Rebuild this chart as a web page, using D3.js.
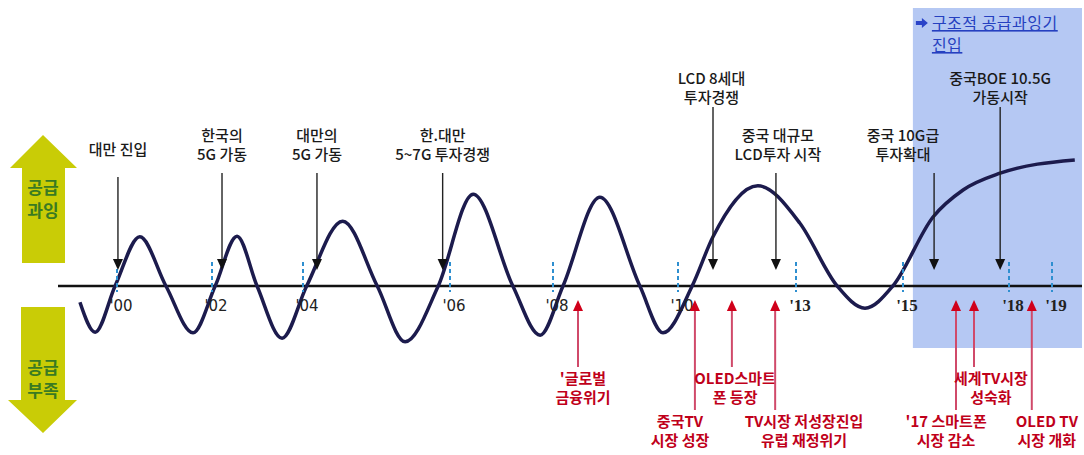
<!DOCTYPE html>
<html>
<head>
<meta charset="utf-8">
<script src="https://cdn.jsdelivr.net/npm/d3@7"></script>
<style>
    body { margin: 0; background: #fff; }
    text { font-family: "Noto Sans CJK KR", "Noto Sans", sans-serif; }
</style>
</head>
<body>
<div id="chart"></div>
<script>
// Display panel supply cycle: oversupply (+) vs shortage (-)

const tickYears = [2000, 2002, 2004, 2006, 2008, 2010, 2013, 2015, 2018, 2019];
const tickLabels = ["'00", "'02", "'04", "'06", "'08", "'10", "'13", "'15", "'18", "'19"];

// cycle curve: year position and supply level (0 = balance)
const cycleYears = [1999.22, 1999.54, 1999.96, 2000.48, 2001.03, 2001.60, 2002.07, 2002.55, 2002.99,
    2003.54, 2004.05, 2004.54, 2005.01, 2005.39, 2005.84, 2006.45, 2007.22, 2007.75, 2008.16,
    2008.75, 2009.39, 2009.76, 2010.36, 2010.89, 2012.03, 2013.07, 2013.77, 2014.29, 2014.81,
    2015.85, 2016.70, 2017.75, 2019.53];
const cycleLevels = [-0.27, -0.77, 0, 0.82, 0, -0.78, 0, 0.83, 0,
    -0.87, 0, 1.08, 0, -0.93, 0, 1.53, 0, -0.82, 0,
    1.48, 0, -0.78, 0, 0.82, 1.67, 1.05, 0, -0.37, 0,
    1.15, 1.6, 1.88, 2.1];

// supply-side events (black, pointing down)
const supplyEvents = [
    { lines: ['대만 진입'], year: 2000.02, labelYear: 2000.02, tier: 'single' },
    { lines: ['한국의', '5G 가동'], year: 2002.22, labelYear: 2002.22, tier: 'mid' },
    { lines: ['대만의', '5G 가동'], year: 2004.19, labelYear: 2004.19, tier: 'mid' },
    { lines: ['한.대만', '5~7G 투자경쟁'], year: 2005.90, labelYear: 2005.90, tier: 'mid' },
    { lines: ['LCD 8세대', '투자경쟁'], year: 2010.89, labelYear: 2010.85, tier: 'high' },
    { lines: ['중국 대규모', 'LCD투자 시작'], year: 2012.49, labelYear: 2012.54, tier: 'mid' },
    { lines: ['중국 10G급', '투자확대'], year: 2015.88, labelYear: 2015.0, tier: 'mid' },
    { lines: ['중국BOE 10.5G', '가동시작'], year: 2017.75, labelYear: 2017.75, tier: 'high' }
];

// demand-side events (red, pointing up)
const demandEvents = [
    { lines: ["'글로벌", '금융위기'], year: 2008.40, labelYear: 2008.48, tier: 'short' },
    { lines: ['중국TV', '시장 성장'], year: 2010.43, labelYear: 2010.05, tier: 'long' },
    { lines: ['OLED스마트', '폰 등장'], year: 2011.37, labelYear: 2011.45, tier: 'short' },
    { lines: ['TV시장 저성장진입', '유럽 재정위기'], year: 2012.47, labelYear: 2013.15, tier: 'long' },
    { lines: ["'17 스마트폰", '시장 감소'], year: 2016.50, labelYear: 2016.22, tier: 'long' },
    { lines: ['세계TV시장', '성숙화'], year: 2017.01, labelYear: 2017.49, tier: 'short' },
    { lines: ['OLED TV', '시장 개화'], year: 2018.53, labelYear: 2018.88, tier: 'long' }
];

const eraStart = 2015.28;
const eraLines = ['구조적 공급과잉기', '진입'];

const W = 1084, H = 455;
const svg = d3.select('#chart').append('svg')
    .attr('width', W)
    .attr('height', H);

// piecewise time scale (tick spacing in the source is uneven)
const x = d3.scaleLinear()
    .domain(tickYears)
    .range([117, 212, 303, 450, 553, 678, 796, 903, 1009, 1052]);

const y = d3.scaleLinear()
    .domain([-1, 2])
    .range([346, 166]);

// shaded era
svg.append('rect')
    .attr('x', x(eraStart))
    .attr('y', 8)
    .attr('width', W - 2 - x(eraStart))
    .attr('height', 340)
    .attr('fill', '#b5c8f3');

// era title
svg.append('path')
    .attr('d', `M${x(eraStart) + 3},21 h6 v-3 l6,5 l-6,5 v-3 h-6 z`)
    .attr('fill', '#2a43c8');
eraLines.forEach((t, i) => {
    svg.append('text')
        .attr('x', x(eraStart) + 19)
        .attr('y', 29 + i * 22)
        .attr('font-size', '16px')
        .attr('letter-spacing', '0.5px')
        .attr('fill', '#2540c0')
        .attr('text-decoration', 'underline')
        .text(t);
});

// yellow supply arrows
const yellow = '#c9cc06';
svg.append('path')
    .attr('d', 'M43,135 L77,168 L65,168 L65,263 L22,263 L22,168 L10,168 Z')
    .attr('fill', yellow);
svg.append('path')
    .attr('d', 'M21,307 L65,307 L65,400 L77,400 L43,433 L8,400 L21,400 Z')
    .attr('fill', yellow);
[['공급', '과잉', 194], ['공급', '부족', 374]].forEach(([a, b, ty]) => {
    [a, b].forEach((t, i) => {
        svg.append('text')
            .attr('x', 43)
            .attr('y', ty + i * 23)
            .attr('text-anchor', 'middle')
            .attr('font-size', '17px')
            .attr('font-weight', '700')
            .attr('fill', '#3a7a22')
            .text(t);
    });
});

// balance line
svg.append('line')
    .attr('x1', 58)
    .attr('x2', 1082)
    .attr('y1', y(0))
    .attr('y2', y(0))
    .attr('stroke', '#111')
    .attr('stroke-width', 2.5);

// cycle curve
const cycle = cycleYears.map((yr, i) => [yr, cycleLevels[i]]);
const line = d3.line()
    .x(d => x(d[0]))
    .y(d => y(d[1]))
    .curve(d3.curveMonotoneX);

svg.append('path')
    .datum(cycle)
    .attr('fill', 'none')
    .attr('stroke', '#1c1b4d')
    .attr('stroke-width', 3.5)
    .attr('d', line);

// year ticks
tickYears.forEach((yr, i) => {
    svg.append('line')
        .attr('x1', x(yr))
        .attr('x2', x(yr))
        .attr('y1', 262)
        .attr('y2', 292)
        .attr('stroke', '#2e8fd0')
        .attr('stroke-width', 2)
        .attr('stroke-dasharray', '4,3');

    const serif = yr > 2010;
    svg.append('text')
        .attr('x', x(yr) + 4)
        .attr('y', 311)
        .attr('text-anchor', 'middle')
        .attr('font-size', serif ? '17px' : '15px')
        .attr('font-weight', serif ? '700' : '400')
        .style('font-family', serif ? '"Liberation Serif", serif' : '"DejaVu Sans", sans-serif')
        .attr('fill', '#222')
        .text(tickLabels[i]);
});

// supply events
const topTiers = {
    single: { base: [155], start: 177 },
    mid: { base: [141, 160], start: 173 },
    high: { base: [84, 103], start: 107 }
};
const tipY = 270;

supplyEvents.forEach(ev => {
    const tier = topTiers[ev.tier];
    const ax = x(ev.year);
    ev.lines.forEach((t, i) => {
        svg.append('text')
            .attr('x', x(ev.labelYear))
            .attr('y', tier.base[i])
            .attr('text-anchor', 'middle')
            .attr('font-size', '15px')
            .attr('font-weight', '500')
            .attr('fill', '#1a1a1a')
            .text(t);
    });
    svg.append('line')
        .attr('x1', ax)
        .attr('x2', ax)
        .attr('y1', tier.start)
        .attr('y2', tipY - 8)
        .attr('stroke', '#222')
        .attr('stroke-width', 1.4);
    svg.append('path')
        .attr('d', `M${ax - 5},${tipY - 11} L${ax + 5},${tipY - 11} L${ax},${tipY} Z`)
        .attr('fill', '#111');
});

// demand events
const bottomTiers = {
    short: { base: [384, 403], end: 367 },
    long: { base: [427, 446], end: 410 }
};
const redTip = 300;

demandEvents.forEach(ev => {
    const tier = bottomTiers[ev.tier];
    const ax = x(ev.year);
    svg.append('line')
        .attr('x1', ax)
        .attr('x2', ax)
        .attr('y1', redTip + 8)
        .attr('y2', tier.end)
        .attr('stroke', '#d04a6a')
        .attr('stroke-width', 2);
    svg.append('path')
        .attr('d', `M${ax - 5},${redTip + 11} L${ax + 5},${redTip + 11} L${ax},${redTip} Z`)
        .attr('fill', '#d0001a');
    ev.lines.forEach((t, i) => {
        svg.append('text')
            .attr('x', x(ev.labelYear))
            .attr('y', tier.base[i])
            .attr('text-anchor', 'middle')
            .attr('font-size', '15px')
            .attr('font-weight', '700')
            .attr('fill', '#c0001a')
            .text(t);
    });
});
</script>
</body>
</html>
